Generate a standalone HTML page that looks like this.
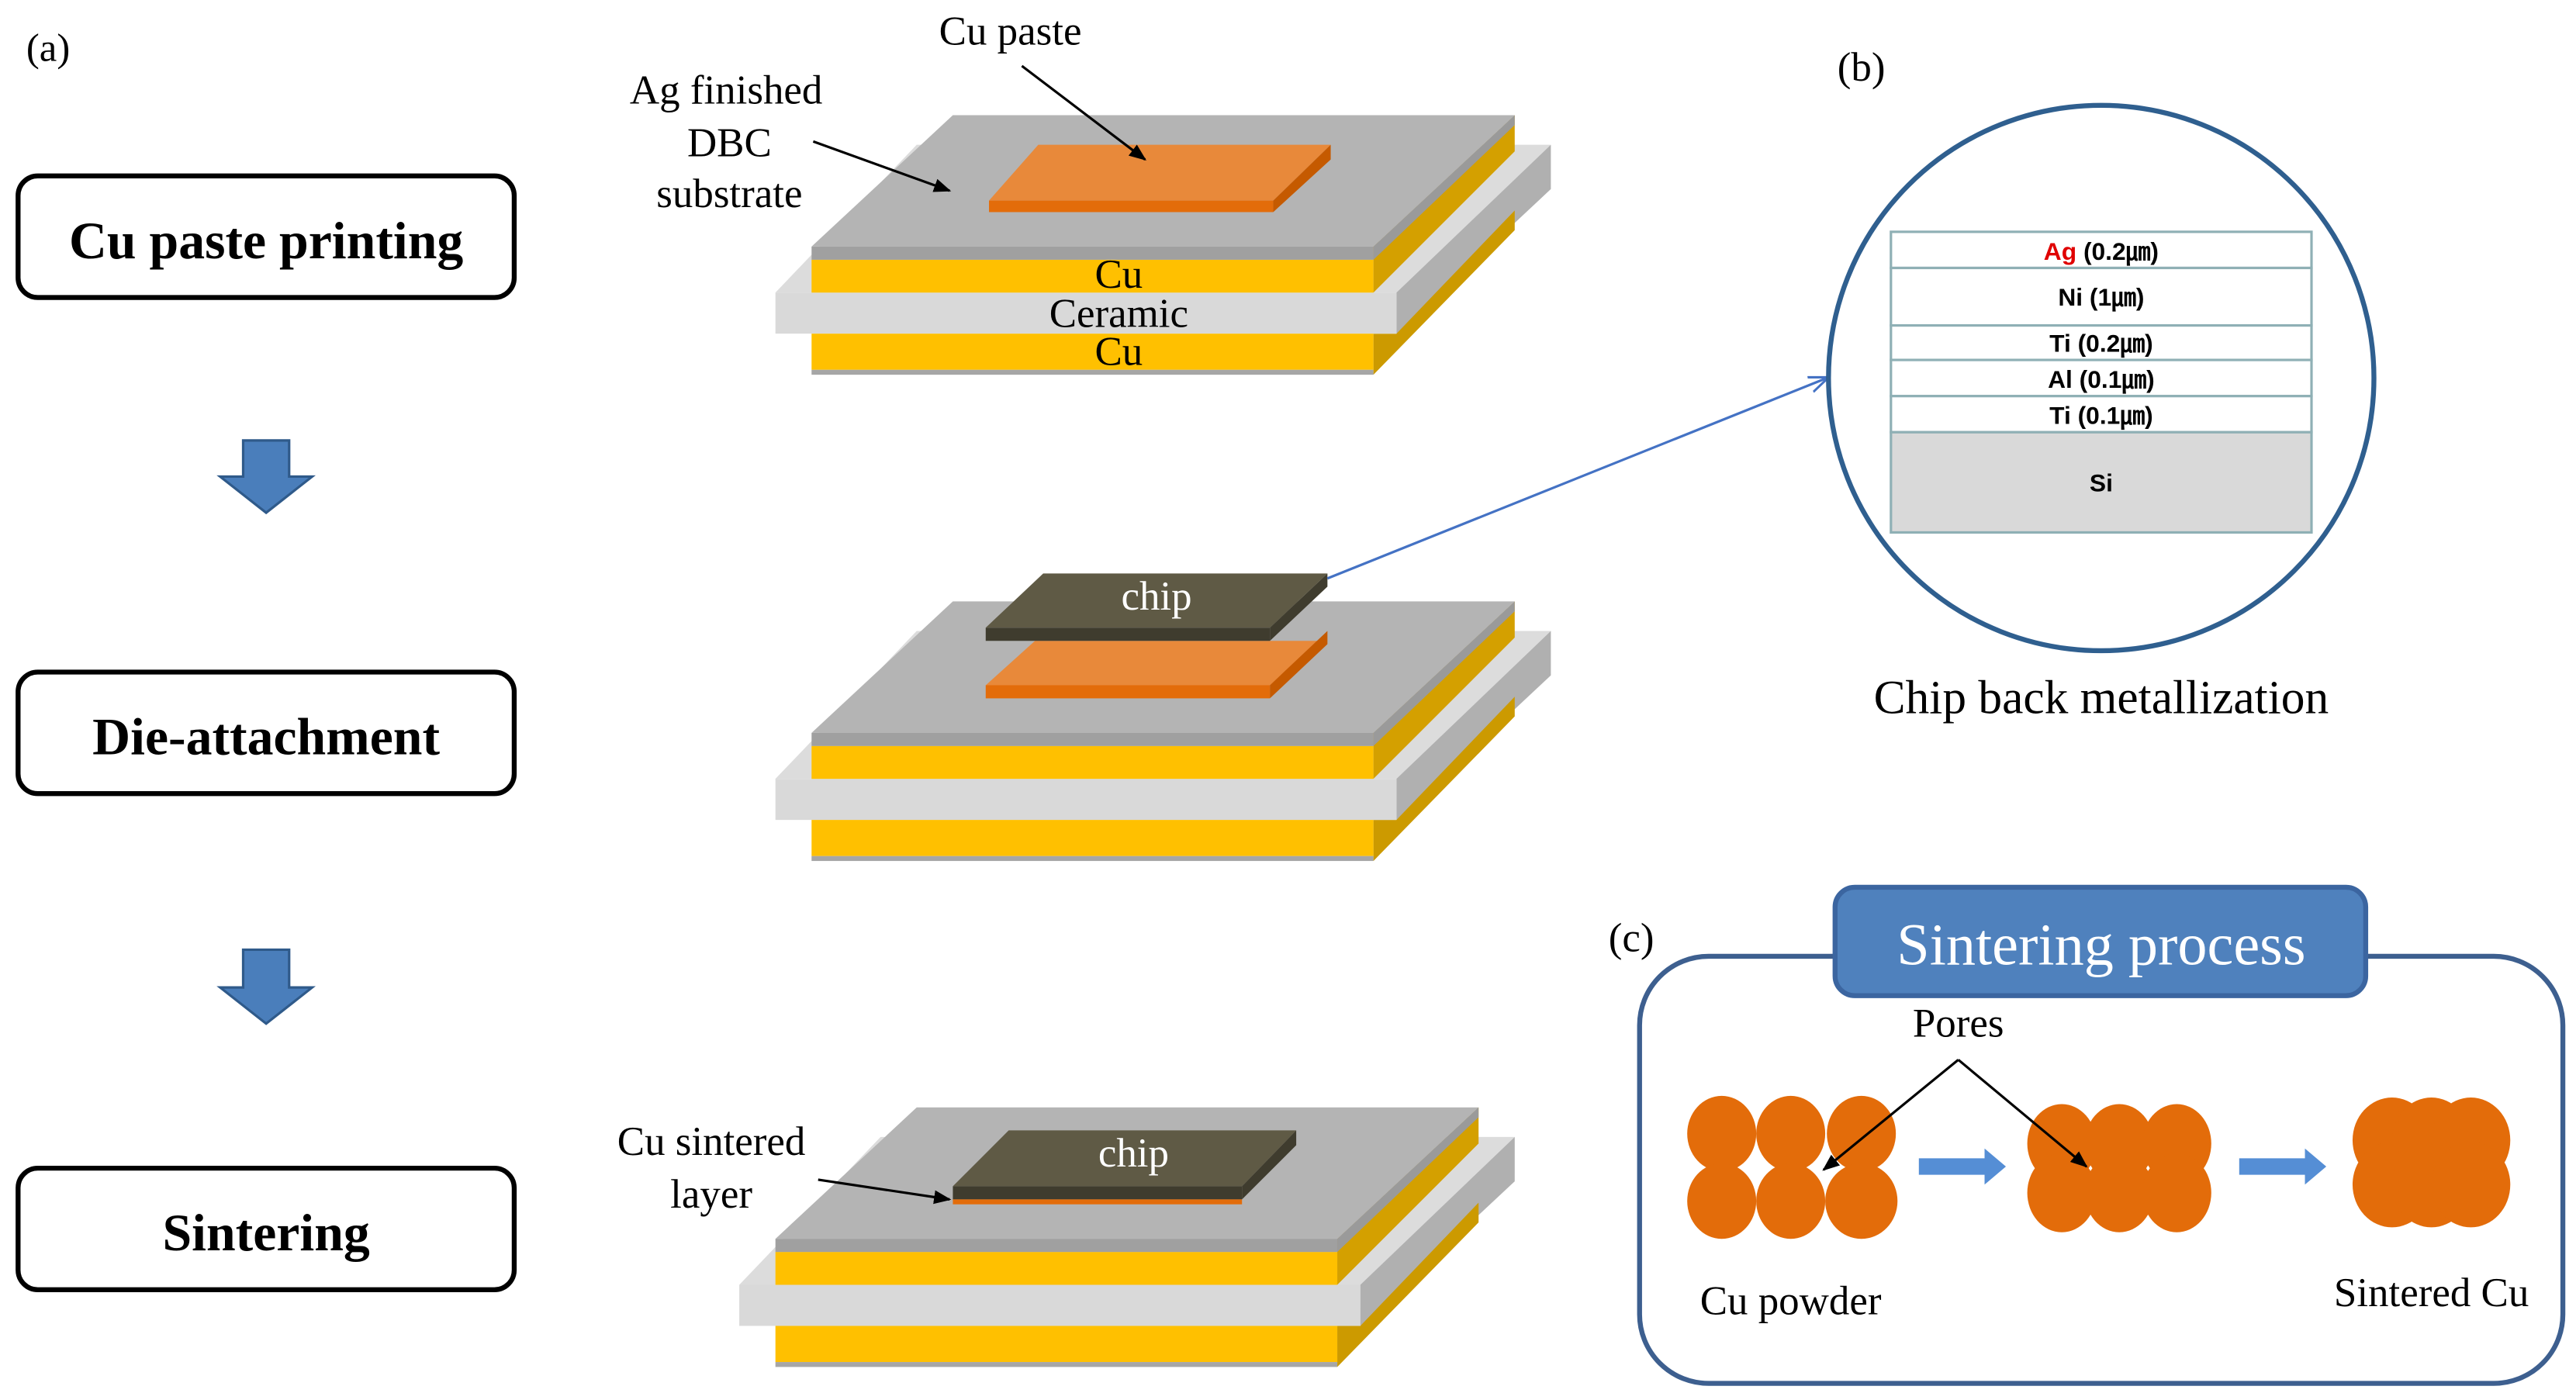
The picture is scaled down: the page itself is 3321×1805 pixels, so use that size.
<!DOCTYPE html>
<html><head><style>html,body{margin:0;padding:0;background:#fff}svg{display:block}</style></head><body>
<svg width="3321" height="1805" viewBox="0 0 1568 852" xmlns="http://www.w3.org/2000/svg" font-family="Liberation Serif, serif">
<defs>
<marker id="ab" viewBox="0 0 10 10" refX="9" refY="5" markerWidth="7" markerHeight="7" orient="auto"><path d="M0,1 L10,5 L0,9 Z" fill="#000"/></marker>
<marker id="ao" viewBox="0 0 10 10" refX="9" refY="5" markerWidth="8" markerHeight="8" orient="auto"><path d="M0,1 L10,5 L0,9" fill="none" stroke="#4472c4" stroke-width="1.2"/></marker>
<g id="stack">
<polygon points="472,178 558,88 944,88 850,178" fill="#dcdcdc"/>
<polygon points="850,178 944,88 944,115 850,203" fill="#b0b0b0"/>
<polygon points="836,228 922,140 922,128 850,203 836,203" fill="#cc9a00"/>
<rect x="472" y="178" width="378" height="25" fill="#d9d9d9"/>
<rect x="494" y="203" width="342" height="22" fill="#ffc000"/>
<rect x="494" y="225" width="342" height="3" fill="#a6a6a6"/>
<polygon points="836,150 922,70 922,92 836,178" fill="#d4a000"/>
<rect x="494" y="158" width="342" height="20" fill="#ffc000"/>
<polygon points="494,150 580,70 922,70 836,150" fill="#b4b4b4"/>
<rect x="494" y="150" width="342" height="8" fill="#a0a0a0"/>
<polygon points="836,150 922,70 922,76 836,158" fill="#9a9a9a"/>
</g>
</defs>
<text x="16" y="37" font-size="24">(a)</text>
<g stroke="#000" stroke-width="3" fill="#fff">
<rect x="11" y="107" width="302" height="74" rx="12"/>
<rect x="11" y="409" width="302" height="74" rx="12"/>
<rect x="11" y="711" width="302" height="74" rx="12"/>
</g>
<g font-weight="bold" font-size="32" text-anchor="middle">
<text x="162" y="157">Cu paste printing</text>
<text x="162" y="459">Die-attachment</text>
<text x="162" y="761">Sintering</text>
</g>
<g fill="#4a7ebb" stroke="#2f5a8a" stroke-width="1.5">
<polygon points="148,268 176,268 176,290 190,290 162,312 134,290 148,290"/>
<polygon points="148,578 176,578 176,601 190,601 162,623 134,601 148,601"/>
</g>
<use href="#stack"/>
<polygon points="602,122 632,88 810,88 775,122" fill="#e8893a"/>
<rect x="602" y="122" width="173" height="7" fill="#e36c0a"/>
<polygon points="775,122 810,88 810,97 775,129" fill="#c55a00"/>
<g font-size="25" text-anchor="middle">
<text x="615" y="27">Cu paste</text>
<text x="442" y="63">Ag finished</text><text x="444" y="95">DBC</text><text x="444" y="126">substrate</text>
<text x="681" y="175">Cu</text><text x="681" y="199">Ceramic</text><text x="681" y="222">Cu</text>
</g>
<line x1="622" y1="40" x2="697" y2="97" stroke="#000" stroke-width="1.5" marker-end="url(#ab)"/>
<line x1="495" y1="86" x2="578" y2="116" stroke="#000" stroke-width="1.5" marker-end="url(#ab)"/>
<use href="#stack" transform="translate(0,296)"/>
<polygon points="600,417 630,390 808,390 773,417" fill="#e8893a"/>
<rect x="600" y="417" width="173" height="8" fill="#e36c0a"/>
<polygon points="773,417 808,384 808,392 773,425" fill="#c55a00"/>
<polygon points="600,382 635,349 808,349 773,382" fill="#5f5a45"/>
<rect x="600" y="382" width="173" height="8" fill="#3f3c2e"/>
<polygon points="773,382 808,349 808,357 773,390" fill="#3f3c2e"/>
<text x="704" y="371" font-size="25" fill="#fff" text-anchor="middle">chip</text>
<line x1="808" y1="352" x2="1112" y2="230" stroke="#4472c4" stroke-width="1.5" marker-end="url(#ao)"/>
<use href="#stack" transform="translate(-22,604)"/>
<polygon points="580,722 614,688 789,688 756,722" fill="#5f5a45"/>
<rect x="580" y="722" width="176" height="8" fill="#3f3c2e"/>
<polygon points="756,722 789,688 789,697 756,730" fill="#3f3c2e"/>
<rect x="580" y="730" width="176" height="3" fill="#e36c0a"/>
<text x="690" y="710" font-size="25" fill="#fff" text-anchor="middle">chip</text>
<g font-size="25" text-anchor="middle"><text x="433" y="703">Cu sintered</text><text x="433" y="735">layer</text></g>
<line x1="498" y1="718" x2="578" y2="730" stroke="#000" stroke-width="1.5" marker-end="url(#ab)"/>
<text x="1133" y="49" font-size="25" text-anchor="middle">(b)</text>
<circle cx="1279" cy="230" r="166" fill="#fff" stroke="#2f5f8f" stroke-width="3"/>
<g stroke="#8fb0b5" stroke-width="1.5" fill="#fff">
<rect x="1151" y="141" width="256" height="22"/>
<rect x="1151" y="163" width="256" height="35"/>
<rect x="1151" y="198" width="256" height="21"/>
<rect x="1151" y="219" width="256" height="22"/>
<rect x="1151" y="241" width="256" height="22"/>
<rect x="1151" y="263" width="256" height="61" fill="#d9d9d9"/>
</g>
<g font-family="Liberation Sans, sans-serif" font-weight="bold" font-size="15" text-anchor="middle">
<text x="1279" y="158"><tspan fill="#e00000">Ag</tspan> (0.2㎛)</text>
<text x="1279" y="186">Ni (1㎛)</text>
<text x="1279" y="214">Ti (0.2㎛)</text>
<text x="1279" y="236">Al (0.1㎛)</text>
<text x="1279" y="258">Ti (0.1㎛)</text>
<text x="1279" y="299">Si</text>
</g>
<text x="1279" y="434" font-size="29" text-anchor="middle">Chip back metallization</text>
<text x="993" y="579" font-size="25" text-anchor="middle">(c)</text>
<rect x="998" y="582" width="562" height="260" rx="42" fill="#fff" stroke="#3d5f8f" stroke-width="3"/>
<rect x="1117" y="540" width="323" height="66" rx="12" fill="#4f81bd" stroke="#3b65a0" stroke-width="3"/>
<text x="1279" y="587" font-size="36" fill="#fff" text-anchor="middle">Sintering process</text>
<g fill="#e36c0a">
<ellipse cx="1048" cy="690" rx="21" ry="23"/><ellipse cx="1090" cy="690" rx="21" ry="23"/><ellipse cx="1133" cy="690" rx="21" ry="23"/>
<ellipse cx="1048" cy="731" rx="21" ry="23"/><ellipse cx="1090" cy="731" rx="21" ry="23"/><ellipse cx="1133" cy="731" rx="22" ry="23"/>
<ellipse cx="1255" cy="696" rx="21" ry="24"/><ellipse cx="1290" cy="696" rx="21" ry="24"/><ellipse cx="1325" cy="696" rx="21" ry="24"/>
<ellipse cx="1255" cy="726" rx="21" ry="24"/><ellipse cx="1290" cy="726" rx="21" ry="24"/><ellipse cx="1325" cy="726" rx="21" ry="24"/>
<ellipse cx="1456" cy="694" rx="24" ry="26"/><ellipse cx="1480" cy="694" rx="24" ry="26"/><ellipse cx="1504" cy="694" rx="24" ry="26"/>
<ellipse cx="1456" cy="721" rx="24" ry="26"/><ellipse cx="1480" cy="721" rx="24" ry="26"/><ellipse cx="1504" cy="721" rx="24" ry="26"/>
</g>
<g fill="#558ed5">
<polygon points="1168,705 1208,705 1208,699 1221,710 1208,721 1208,715 1168,715"/>
<polygon points="1363,705 1403,705 1403,699 1416,710 1403,721 1403,715 1363,715"/>
</g>
<text x="1192" y="631" font-size="25" text-anchor="middle">Pores</text>
<line x1="1192" y1="645" x2="1110" y2="712" stroke="#000" stroke-width="1.5" marker-end="url(#ab)"/>
<line x1="1192" y1="645" x2="1270" y2="710" stroke="#000" stroke-width="1.5" marker-end="url(#ab)"/>
<text x="1090" y="800" font-size="25" text-anchor="middle">Cu powder</text>
<text x="1480" y="795" font-size="25" text-anchor="middle">Sintered Cu</text>
</svg>
</body></html>
